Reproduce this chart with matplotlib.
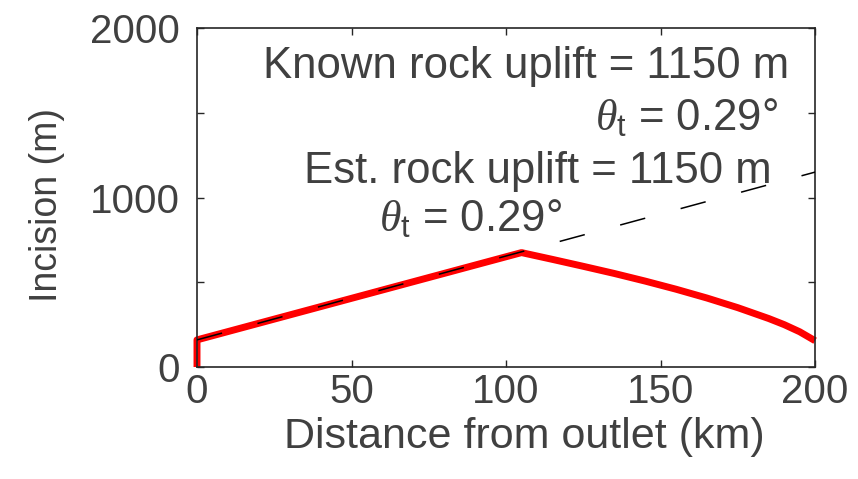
import numpy as np
import matplotlib
matplotlib.use("Agg")
from matplotlib import pyplot as plt

plt.rcParams['font.family'] = ['Liberation Sans', 'DejaVu Sans']
plt.rcParams['mathtext.fontset'] = 'custom'
plt.rcParams['mathtext.it'] = 'Liberation Serif:italic'
plt.rcParams['mathtext.rm'] = 'Liberation Sans'

# modelled incision profile (red) and estimated uplift line (dashed)
dist_km = [0, 0, 105, 115, 125, 135, 145, 155, 165, 175, 185, 190, 195, 200]
incision_m = [0, 160, 675, 635, 594, 552, 507, 459, 407, 350, 286, 250, 208, 155]
est_dist_km = [0, 200]
est_incision_m = [160, 1150]

x_ticks = [0, 50, 100, 150, 200]
y_ticks = [0, 500, 1000, 1500, 2000]
y_labels = ['0', '', '1000', '', '2000']

txt = '#404040'
fs_tick = 29
fs_ann = 31.5

fig = plt.figure(figsize=(8.58, 4.79), dpi=100)
ax = fig.add_axes([0.2296, 0.2338, 0.7204, 0.7077])

ax.plot(dist_km, incision_m, color='red', lw=5, solid_joinstyle='round',
        solid_capstyle='butt', clip_on=False, zorder=2)
ax.plot(est_dist_km, est_incision_m, color='black', lw=1.1,
        dashes=(17, 24), zorder=3)

ax.set_xlim(0, 200)
ax.set_ylim(0, 2000)
ax.set_xticks(x_ticks)
ax.set_yticks(y_ticks)
ax.set_yticklabels(y_labels)
ax.tick_params(direction='in', length=5, width=1, top=True, right=True,
               labelsize=fs_tick, colors='#262626', labelcolor=txt)
ax.tick_params(axis='y', pad=12)
ax.tick_params(axis='x', pad=4)
for s in ax.spines.values():
    s.set_color('#262626')
    s.set_linewidth(1.2)

ax.set_xlabel('Distance from outlet (km)', fontsize=31, color=txt)
ax.xaxis.set_label_coords(0.529, -0.148)
ax.set_ylabel('Incision (m)', fontsize=27, color=txt)
ax.yaxis.set_label_coords(-0.214, 0.478)

ax.text(191.5, 1705, 'Known rock uplift = 1150 m', fontsize=fs_ann, color=txt,
        ha='right', va='baseline')
ax.text(188, 1400, r'$\theta_{\mathrm{t}}$ = 0.29°', fontsize=fs_ann, color=txt,
        ha='right', va='baseline')
ax.text(186, 1085, 'Est. rock uplift = 1150 m', fontsize=fs_ann, color=txt,
        ha='right', va='baseline')
ax.text(118, 800, r'$\theta_{\mathrm{t}}$ = 0.29°', fontsize=fs_ann, color=txt,
        ha='right', va='baseline')

fig.savefig('out.png', dpi=100)
